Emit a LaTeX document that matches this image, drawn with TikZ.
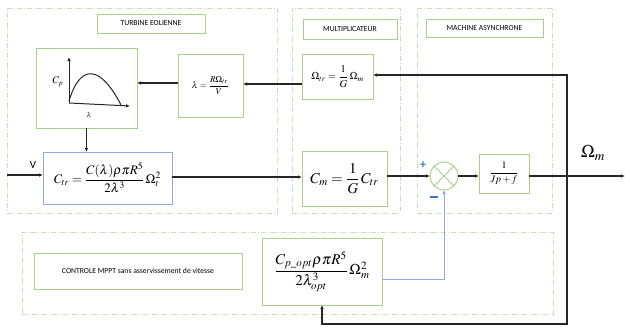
\documentclass[tikz,border=0pt]{standalone}
\usepackage{amsmath}
\usepackage{mathptmx}
\usepackage{fontspec}
\setmainfont{Carlito}
\usetikzlibrary{arrows.meta}
\definecolor{grn}{HTML}{A9D18E}
\definecolor{grnd}{HTML}{C5E0B4}
\definecolor{blu}{HTML}{8FAADC}
\definecolor{blus}{HTML}{4472C4}
\tikzset{
  box/.style={draw=grn, line width=1pt, inner sep=0pt, outer sep=0pt, align=center},
  grp/.style={draw=grnd, line width=0.9pt, dash pattern=on 5pt off 2pt on 1pt off 2pt, inner sep=0pt, outer sep=0pt},
  ttl/.style={box, font=\fontsize{7.7}{9}\selectfont},
  arr/.style={line width=1.2pt, draw=black!85, -{Latex[length=4pt,width=3.5pt]}},
  ln/.style={line width=1.2pt, draw=black!85},
}
\begin{document}
\begin{tikzpicture}[x=1pt,y=-1pt]
\useasboundingbox (0,0) rectangle (625,327);
% groups
\node[grp, minimum width=270, minimum height=205] (gT) at (142,110.5) {};
\node[grp, minimum width=108, minimum height=205] (gM) at (346,110.5) {};
\node[grp, minimum width=135, minimum height=205] (gA) at (484.5,110.5) {};
\node[grp, minimum width=531, minimum height=82] (gC) at (287.5,273) {};
% titles
\node[ttl, minimum width=108, minimum height=19] (tT) at (151,23.5) {TURBINE EOLIENNE};
\node[ttl, minimum width=94, minimum height=20] (tM) at (350,29) {MULTIPLICATEUR};
\node[ttl, minimum width=117, minimum height=18] (tA) at (484.5,28) {MACHINE ASYNCHRONE};
\node[ttl, minimum width=208, minimum height=36] (tC) at (138,271) {CONTROLE MPPT sans asservissement de vitesse};
% blocks
\node[box, minimum width=101, minimum height=80] (cp) at (86.5,88) {};
\node[box, minimum width=65, minimum height=63, font=\fontsize{9}{10}\selectfont] (lam) at (210.5,85.5) {$\lambda=\dfrac{R\Omega_{tr}}{V}$};
\node[box, draw=blu, minimum width=129, minimum height=52, font=\fontsize{13}{15}\selectfont] (ctr) at (107.5,178) {$C_{tr}=\dfrac{C(\lambda)\rho\pi R^5}{2\lambda^3}\,\Omega_t^2$};
\node[box, minimum width=71, minimum height=45, font=\fontsize{10.5}{12}\selectfont] (otr) at (337.5,76.5) {$\Omega_{tr}=\dfrac{1}{G}\,\Omega_m$};
\node[box, minimum width=85, minimum height=55, font=\fontsize{15}{17}\selectfont] (cm) at (344.5,178.5) {$C_m=\dfrac{1}{G}\,C_{tr}$};
\node[box, minimum width=50, minimum height=39, font=\fontsize{10}{12}\selectfont] (tf) at (504,173.5) {$\dfrac{1}{Jp+f}$};
\node[box, minimum width=120, minimum height=67, font=\fontsize{15}{17}\selectfont] (mp) at (322,271.5) {$\dfrac{C_{p\_opt}\rho\pi R^5}{2\lambda_{opt}^3}\,\Omega_m^2$};
\node[circle, draw=grn, line width=1pt, minimum size=28, inner sep=0pt, outer sep=0pt] (sum) at (444,176) {};
\draw[grn, line width=1pt] (sum.north east) -- (sum.south west) (sum.north west) -- (sum.south east);
% Cp plot
\coordinate (o) at (69,103);
\draw[ln, line width=1pt, -{Latex[length=4pt,width=3.5pt]}] (o) -- (69,57);
\draw[ln, line width=1pt, -{Latex[length=4pt,width=3.5pt]}] (o) -- (130,106);
\draw[ln, line width=1pt] (69,101) .. controls (80,64) and (100,64) .. (121,105);
\node[font=\fontsize{10}{11}\selectfont] (cpl) at (58,82) {$C_p$};
\node[font=\fontsize{7}{8}\selectfont] (lml) at (89,115) {$\lambda$};
% inputs / labels
\coordinate (vin) at (7,175);
\draw[arr] (vin) -- (vin -| ctr.west);
\node[font=\fontsize{11}{12}\selectfont] (vl) at (33,165) {V};
\node[font=\fontsize{18}{20}\selectfont] (om) at (593,153) {$\Omega_m$};
\node[text=blus, font=\bfseries\fontsize{12}{12}\selectfont] (pl) at (423,165.5) {+};
\draw[blus, line width=1.3pt] (430,197) -- (438,197);
% connectors
\draw[arr] (cp.south) -- (cp.south |- ctr.north);
\draw[arr] (lam.west |- 0,83) -- (cp.east |- 0,83);
\draw[arr] (otr.west |- 0,84) -- (lam.east |- 0,84);
\draw[arr] (ctr.east |- 0,177) -- (cm.west |- 0,177);
\draw[arr] (cm.east |- 0,176) -- (sum.west);
\draw[arr] (sum.east) -- (tf.west |- sum.east);
\coordinate (out) at (625,176);
\draw[arr] (tf.east |- 0,176) -- (out);
\coordinate (j) at (567,176);
\coordinate (jb) at (567,324);
\draw[arr] (j) |- (otr.east |- 0,75);
\draw[arr] (j) -- (jb) -| (mp.south);
\draw[blu, line width=1pt, -{Latex[length=4pt,width=3.5pt]}] (mp.east |- 0,279) -| (sum.south);
\end{tikzpicture}
\end{document}
